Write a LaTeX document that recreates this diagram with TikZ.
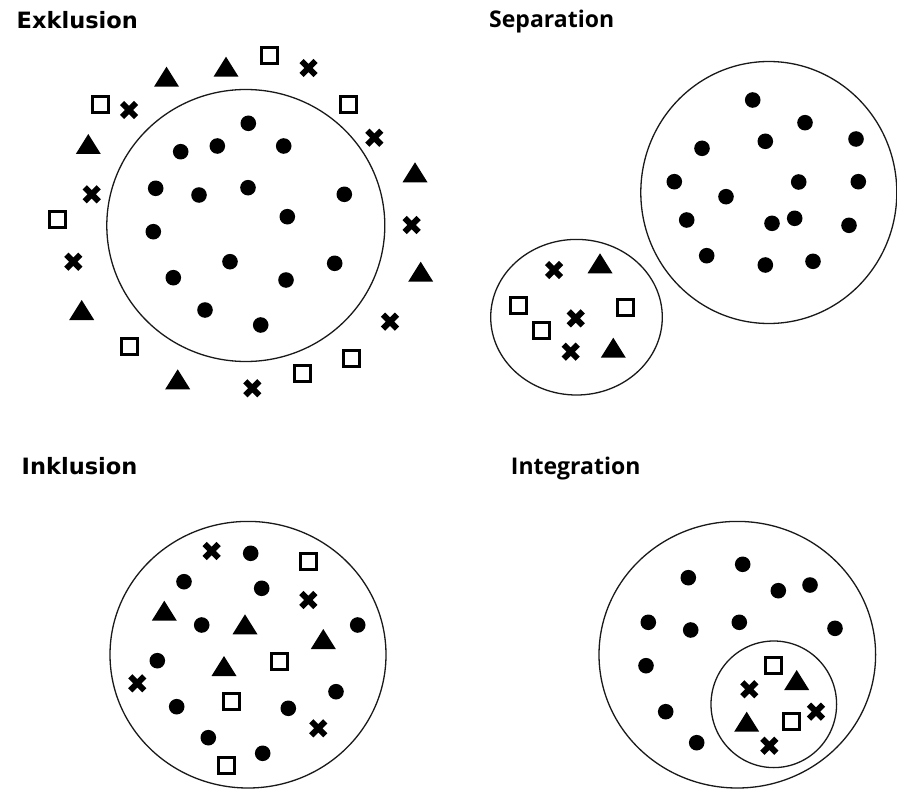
\documentclass[tikz,border=0pt]{standalone}
\usepackage{fontspec}
\newfontfamily\titlefa{DejaVu Sans}
\newfontfamily\titlefb{Open Sans}
\tikzset{
  ring/.style={line width=1.3pt, draw=black!90},
  titleA/.style={anchor=base west, inner sep=0pt, font=\titlefa\bfseries\fontsize{22.5}{27}\selectfont},
  titleB/.style={anchor=base west, inner sep=0pt, font=\titlefb\bfseries\fontsize{23}{28}\selectfont},
  dot/.pic={\fill (0,0) circle[radius=7.8];},
  sq/.pic={\draw[line width=3pt] (-8,-8) rectangle (8,8);},
  tri/.pic={\fill (-12.5,10) -- (12.5,10) -- (0,-10) -- cycle;},
  crs/.pic={\draw[line width=6pt] (-7,-7) -- (7,7) (-7,7) -- (7,-7);}
}
\begin{document}
\begin{tikzpicture}[x=1pt,y=-1pt]
\useasboundingbox (0,0) rectangle (897,789);
\fill[white] (0,0) rectangle (897,789);

% ---------- Titles ----------
\node[titleA] (tEx) at (16.5,28.3) {Exklusion};
\node[titleB] (tSep) at (489,27.7) {Separation};
\node[titleA] (tIn) at (21.5,474.5) {Inklusion};
\node[titleB] (tInt) at (510.7,474.5) {Integration};

% ---------- Exklusion ----------
\draw[ring] (245.8,225.5) ellipse [x radius=139, y radius=136];
\foreach \p in {(248.3,123.3),(180.7,151.7),(217.3,146),(283.7,146),(155.7,188.3),(199,195),(248,187.7),(344.3,194.3),(287.3,216.7),(153.3,231.7),(230,261.7),(334.7,263.3),(173.3,277.7),(286,280),(205,310),(260.7,325)}
  \pic at \p {dot};
\foreach \p in {(166.5,76.7),(226,66.7),(88.3,144),(415,172.3),(420.7,271.7),(81.7,310),(177.7,379.3)}
  \pic at \p {tri};
\foreach \p in {(269.3,55.3),(100,104.3),(348.3,104.3),(57.7,219.3),(129.3,346),(351.7,358.3),(302,373.7)}
  \pic at \p {sq};
\foreach \p in {(308.5,68),(129,110),(374.3,137.7),(91.7,194.3),(411.7,225),(73.3,261.7),(390,321.7),(252.3,388.3)}
  \pic at \p {crs};

% ---------- Separation ----------
\draw[ring] (768.8,192.5) ellipse [x radius=128, y radius=131];
\foreach \p in {(752.7,100),(805,122.7),(765.3,141.3),(856,139),(702,148.3),(674.3,181.7),(798.7,182),(858.3,181.7),(726,196.7),(686.7,220),(772,223.3),(794.7,218.3),(849,225.3),(706.7,255.7),(765.3,265),(813,261.3)}
  \pic at \p {dot};
\draw[ring] (576.5,317.2) ellipse [x radius=85.8, y radius=77.8];
\foreach \p in {(554,270),(575.7,318.3),(570.7,351.7)}
  \pic at \p {crs};
\foreach \p in {(600,263.3),(613.3,347.7)}
  \pic at \p {tri};
\foreach \p in {(518.3,305),(625,307.3),(541.7,330.7)}
  \pic at \p {sq};

% ---------- Inklusion ----------
\draw[ring] (248,654.7) ellipse [x radius=138, y radius=133.3];
\foreach \p in {(250.7,553.3),(184,581.7),(261.7,588.3),(201.7,625),(357.7,625),(157.3,660.7),(336,691.7),(176.7,706.7),(288.3,708.3),(208.3,737.7),(262.7,753.3)}
  \pic at \p {dot};
\foreach \p in {(211.7,551),(308.3,600),(137.3,683.3),(318.3,728.3)}
  \pic at \p {crs};
\foreach \p in {(308.3,561.7),(279,661),(231.3,701.7),(226.7,765)}
  \pic at \p {sq};
\foreach \p in {(164.3,610.7),(245,624.3),(323.3,639),(224,666)}
  \pic at \p {tri};

% ---------- Integration ----------
\draw[ring] (737.3,654.7) ellipse [x radius=138.3, y radius=133.3];
\foreach \p in {(742.7,564.3),(688.3,577.7),(778.3,590.7),(810,585),(648.3,622.3),(690.7,630),(739.3,622.3),(835,628.3),(646,665.7),(665.7,711.7),(696.7,742.7)}
  \pic at \p {dot};
\draw[ring] (773.8,704.3) ellipse [x radius=62.8, y radius=63.3];
\foreach \p in {(773.3,665.7),(791,721.7)}
  \pic at \p {sq};
\foreach \p in {(796.7,680),(746.7,721.7)}
  \pic at \p {tri};
\foreach \p in {(749.3,689.3),(816,711.7),(769.3,745.7)}
  \pic at \p {crs};
\end{tikzpicture}
\end{document}
